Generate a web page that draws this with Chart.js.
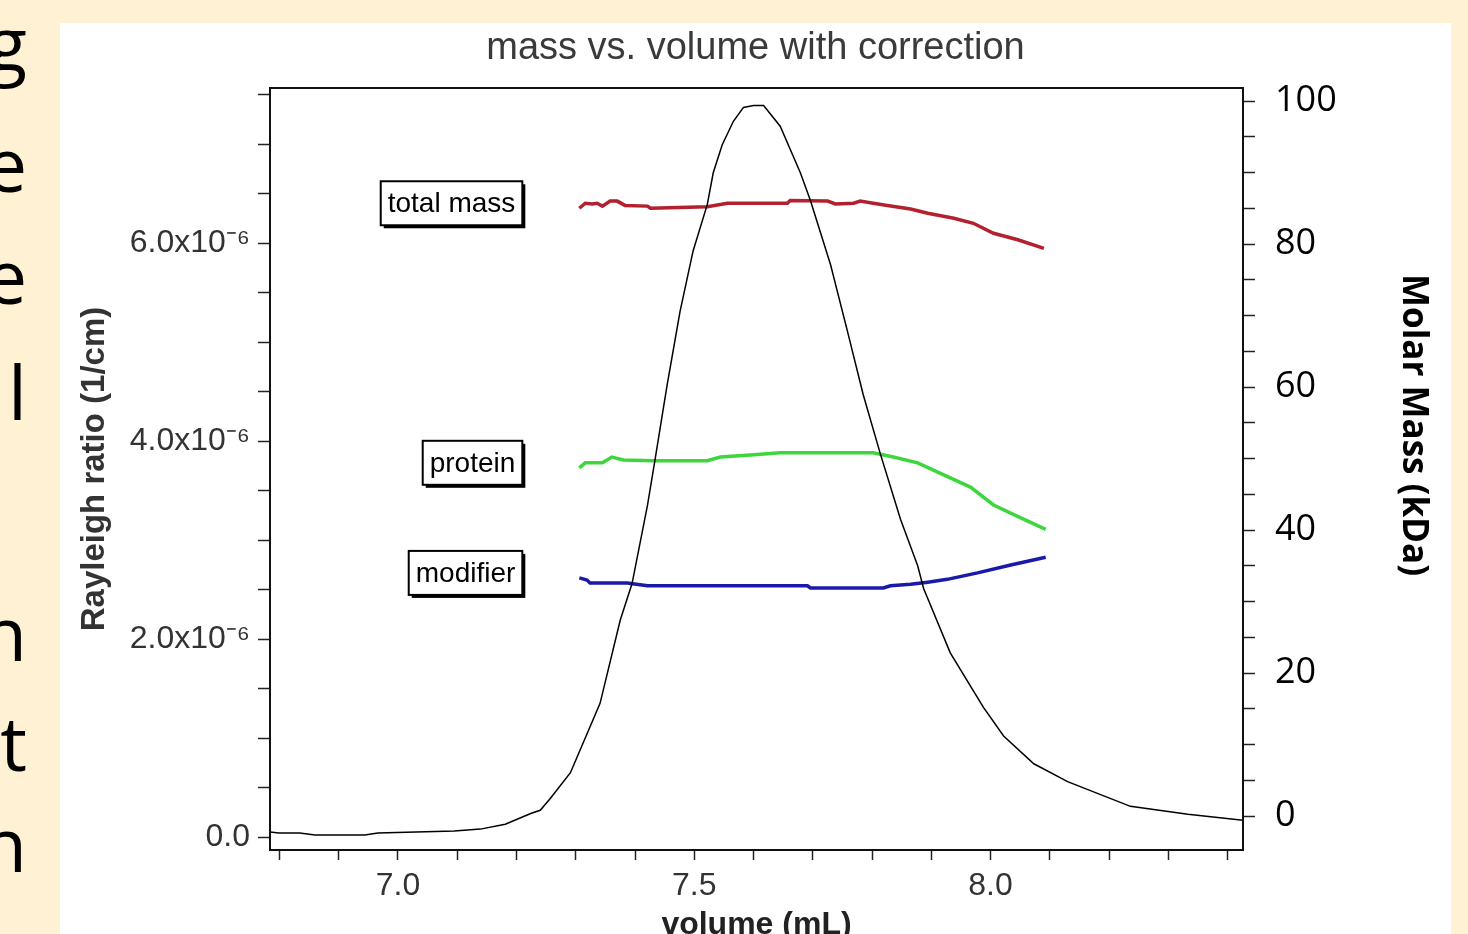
<!DOCTYPE html>
<html>
<head>
<meta charset="utf-8">
<script src="https://cdn.jsdelivr.net/npm/chart.js@4.4.0/dist/chart.umd.min.js"></script>
<style>
  html, body { margin: 0; padding: 0; width: 1468px; height: 934px; overflow: hidden; background: #FFF2D4; }
  #panel { position: absolute; left: 60px; top: 23px; width: 1391px; height: 940px; background: #fff; }
  .cut { position: absolute; left: -200px; width: 227px; text-align: right;
         font-family: 'Open Sans', sans-serif; font-size: 75px; line-height: 75px; color: #000; }
</style>
</head>
<body>
<!-- ends of the slide text lines, cut off by the picture -->
<div class="cut" style="top:5px">g</div>
<div class="cut" style="top:126px">e</div>
<div class="cut" style="top:238px">e</div>
<div class="cut" style="top:354px">l</div>
<div class="cut" style="top:595px">n</div>
<div class="cut" style="top:705px">t</div>
<div class="cut" style="top:806px">n</div>

<div id="panel"><canvas id="chart" width="1391" height="940"></canvas></div>

<script>
// Rayleigh ratio trace (left axis, in units of 1e-6 1/cm)
var rayVolume = [6.784, 6.799, 6.834, 6.860, 6.944, 6.966, 7.095, 7.139, 7.181, 7.225, 7.240, 7.257,
                 7.291, 7.341, 7.375, 7.395, 7.421, 7.434, 7.454, 7.476, 7.498, 7.522, 7.532, 7.547,
                 7.566, 7.583, 7.600, 7.617, 7.645, 7.679, 7.696, 7.730, 7.758, 7.785, 7.814, 7.848,
                 7.877, 7.887, 7.932, 7.988, 8.022, 8.073, 8.130, 8.236, 8.333, 8.426];
var rayRatio = [0.05, 0.04, 0.04, 0.02, 0.02, 0.04, 0.06, 0.08, 0.13, 0.24, 0.27, 0.39,
                0.65, 1.35, 2.19, 2.56, 3.35, 3.82, 4.56, 5.31, 5.92, 6.39, 6.71, 6.99,
                7.23, 7.37, 7.39, 7.39, 7.18, 6.71, 6.43, 5.78, 5.12, 4.47, 3.87, 3.21,
                2.74, 2.51, 1.86, 1.31, 1.02, 0.74, 0.56, 0.31, 0.23, 0.17];

// molar mass traces (right axis, kDa)
var totalVolume = [7.306, 7.316, 7.328, 7.336, 7.345, 7.358, 7.370, 7.383, 7.421, 7.426, 7.522, 7.556,
                   7.657, 7.662, 7.725, 7.738, 7.769, 7.780, 7.802, 7.826, 7.865, 7.894, 7.938, 7.971,
                   8.005, 8.046, 8.090];
var totalMass = [85.0, 85.7, 85.6, 85.7, 85.3, 86.0, 86.0, 85.4, 85.3, 85.0, 85.2, 85.7,
                 85.7, 86.1, 86.0, 85.6, 85.7, 86.0, 85.7, 85.4, 84.9, 84.3, 83.6, 82.9,
                 81.5, 80.6, 79.4];

var proteinVolume = [7.306, 7.316, 7.345, 7.361, 7.380, 7.431, 7.522, 7.544, 7.595, 7.645, 7.802, 7.836,
                     7.877, 7.921, 7.966, 8.005, 8.051, 8.093];
var proteinMass = [48.7, 49.4, 49.4, 50.2, 49.8, 49.7, 49.7, 50.2, 50.5, 50.8, 50.8, 50.2,
                   49.4, 47.7, 46.0, 43.5, 41.7, 40.1];

var modifierVolume = [7.306, 7.319, 7.324, 7.387, 7.421, 7.691, 7.696, 7.819, 7.831, 7.865, 7.894, 7.927,
                      7.978, 8.034, 8.093];
var modifierMass = [33.3, 33.0, 32.6, 32.6, 32.2, 32.2, 31.9, 31.9, 32.2, 32.4, 32.7, 33.1,
                    34.0, 35.1, 36.2];

var seriesNames = ['total mass', 'protein', 'modifier'];

// tick values
var volumeTicks = [6.8, 6.9, 7.0, 7.1, 7.2, 7.3, 7.4, 7.5, 7.6, 7.7, 7.8, 7.9, 8.0, 8.1, 8.2, 8.3, 8.4];
var volumeLabels = [7.0, 7.5, 8.0];
var ratioTicks = [0, 0.5, 1, 1.5, 2, 2.5, 3, 3.5, 4, 4.5, 5, 5.5, 6, 6.5, 7, 7.5];
var ratioLabels = [0, 2, 4, 6];
var massTicks = [0, 5, 10, 15, 20, 25, 30, 35, 40, 45, 50, 55, 60, 65, 70, 75, 80, 85, 90, 95, 100];
var massLabels = [0, 20, 40, 60, 80, 100];

function pairs(xs, ys) {
    return xs.map(function (x, i) { return {x: x, y: ys[i]}; });
}
function has(list, v) {
    return list.some(function (t) { return Math.abs(t - v) < 1e-6; });
}

Chart.defaults.font.family = "'Liberation Sans', Arial, sans-serif";

// frame round the plot
var frame = {
    id: 'frame',
    afterDatasetsDraw: function (chart) {
        var a = chart.chartArea, ctx = chart.ctx;
        ctx.save();
        ctx.strokeStyle = '#111';
        ctx.lineWidth = 2;
        ctx.strokeRect(a.left, a.top, a.right - a.left, a.bottom - a.top);
        ctx.restore();
    }
};

// boxed series names + right axis title
var notes = {
    id: 'notes',
    afterDraw: function (chart) {
        var ctx = chart.ctx, xs = chart.scales.x, ys = chart.scales.y1;
        var firsts = [[totalVolume[0], totalMass[0]], [proteinVolume[0], proteinMass[0]], [modifierVolume[0], modifierMass[0]]];
        ctx.save();
        ctx.font = "28px 'Liberation Sans', Arial, sans-serif";
        ctx.textAlign = 'center';
        ctx.textBaseline = 'middle';
        seriesNames.forEach(function (name, i) {
            var w = ctx.measureText(name).width + 14, h = 44;
            var right = xs.getPixelForValue(firsts[i][0]) - 57;
            var cy = ys.getPixelForValue(firsts[i][1]) - 5;
            var left = right - w, top = cy - h / 2;
            ctx.fillStyle = '#000';
            ctx.fillRect(left + 3, top + 3, w, h);
            ctx.fillStyle = '#fff';
            ctx.fillRect(left, top, w, h);
            ctx.lineWidth = 2;
            ctx.strokeStyle = '#000';
            ctx.strokeRect(left, top, w, h);
            ctx.fillStyle = '#000';
            ctx.fillText(name, left + w / 2, cy + 1);
        });
        var a = chart.chartArea;
        ctx.translate(ys.right - 38, (a.top + a.bottom) / 2 - 44);
        ctx.rotate(Math.PI / 2);
        ctx.font = "bold 35px 'Open Sans', sans-serif";
        ctx.fillText('Molar Mass (kDa)', 0, 0);
        ctx.restore();
    }
};

var ctx = document.getElementById('chart').getContext('2d');
var chart = new Chart(ctx, {
    type: 'line',
    data: {
        datasets: [{
            data: pairs(rayVolume, rayRatio),
            yAxisID: 'y',
            borderColor: '#000',
            borderWidth: 1.5
        }, {
            data: pairs(totalVolume, totalMass),
            yAxisID: 'y1',
            borderColor: '#B3202E',
            borderWidth: 3.5
        }, {
            data: pairs(proteinVolume, proteinMass),
            yAxisID: 'y1',
            borderColor: '#3DD63D',
            borderWidth: 3.5
        }, {
            data: pairs(modifierVolume, modifierMass),
            yAxisID: 'y1',
            borderColor: '#1A1AA8',
            borderWidth: 3.5
        }]
    },
    options: {
        responsive: false,
        animation: false,
        events: [],
        elements: { point: { radius: 0 }, line: { tension: 0 } },
        layout: { padding: 0 },
        plugins: {
            legend: { display: false },
            tooltip: { enabled: false },
            title: {
                display: true,
                text: 'mass vs. volume with correction',
                color: '#3a3a3a',
                font: { size: 38, weight: 'normal' },
                padding: { top: 3, bottom: 16.4 }
            }
        },
        scales: {
            x: {
                type: 'linear',
                min: 6.784,
                max: 8.426,
                afterBuildTicks: function (s) { s.ticks = volumeTicks.map(function (v) { return {value: v}; }); },
                afterFit: function (s) { s.height = 113; },
                border: { display: false },
                grid: { drawOnChartArea: false, tickLength: 10, tickColor: '#222', tickWidth: 1.5 },
                ticks: {
                    autoSkip: false, maxRotation: 0, padding: 7, color: '#333',
                    font: { size: 32 },
                    callback: function (v) { return has(volumeLabels, v) ? v.toFixed(1) : ''; }
                },
                title: {
                    display: true, text: 'volume (mL)', color: '#222',
                    font: { size: 32, weight: 'bold' },
                    padding: { top: 0, bottom: 18.8 }
                }
            },
            y: {
                position: 'left',
                min: -0.131,
                max: 7.566,
                afterBuildTicks: function (s) { s.ticks = ratioTicks.map(function (v) { return {value: v}; }); },
                afterFit: function (s) { s.width = 210; },
                border: { display: false },
                grid: { drawOnChartArea: false, tickLength: 12, tickColor: '#222', tickWidth: 1.5 },
                ticks: {
                    autoSkip: false, padding: 8, color: '#333',
                    font: { size: 32 },
                    callback: function (v) {
                        if (!has(ratioLabels, v)) return '';
                        return v === 0 ? '0.0' : v.toFixed(1) + 'x10\u207B\u2076';
                    }
                },
                title: {
                    display: true, text: 'Rayleigh ratio (1/cm)', color: '#333',
                    font: { size: 33, weight: 'bold' },
                    padding: { top: 15.2, bottom: 0 }
                }
            },
            y1: {
                position: 'right',
                min: -4.755,
                max: 101.82,
                afterBuildTicks: function (s) { s.ticks = massTicks.map(function (v) { return {value: v}; }); },
                afterFit: function (s) { s.width = 208; },
                border: { display: false },
                grid: { drawOnChartArea: false, tickLength: 12, tickColor: '#222', tickWidth: 1.5 },
                ticks: {
                    autoSkip: false, padding: 20, color: '#000',
                    font: { size: 36, family: "'Open Sans', sans-serif" },
                    callback: function (v) { return has(massLabels, v) ? String(v) : ''; }
                }
            }
        }
    },
    plugins: [frame, notes]
});
</script>
</body>
</html>
